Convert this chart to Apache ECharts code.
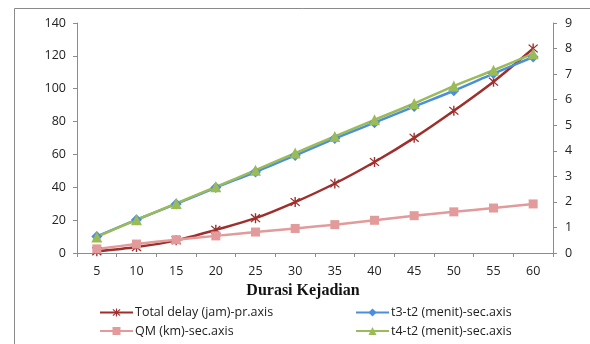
<!DOCTYPE html>
<html>
<head>
<meta charset="utf-8">
<script src="https://cdn.jsdelivr.net/npm/echarts@6/dist/echarts.min.js"></script>
<style>
  html, body { margin: 0; padding: 0; background: #fff; }
  #chart { width: 590px; height: 344px; }
</style>
</head>
<body>
<div id="chart"></div>
<script>
// Incident duration (minutes)
const durations = ['5', '10', '15', '20', '25', '30', '35', '40', '45', '50', '55', '60'];

// Primary axis (left)
const totalDelay = [1.0, 3.6, 7.7, 14.1, 21.2, 31.0, 42.3, 55.4, 70.1, 86.6, 104.3, 124.5];

// Secondary axis (right)
const queueKm = [0.16, 0.35, 0.52, 0.67, 0.82, 0.96, 1.11, 1.28, 1.46, 1.61, 1.76, 1.92];
const t3t2 = [0.65, 1.30, 1.92, 2.56, 3.17, 3.82, 4.48, 5.10, 5.73, 6.35, 7.02, 7.67];
const t4t2 = [0.63, 1.30, 1.94, 2.59, 3.24, 3.91, 4.56, 5.21, 5.85, 6.53, 7.15, 7.80];

const leftTicks = { min: 0, max: 140, interval: 20 };
const rightTicks = { min: 0, max: 9, interval: 1 };

const labelFont = 'Open Sans';
const axisGray = '#8c8c8c';

// asterisk marker: vertical bar plus two diagonals
const starPath = 'path://M-0.6,-5 L0.6,-5 L0.6,5 L-0.6,5 Z ' +
  'M-4.3,-3.5 L-3.5,-4.3 L4.3,3.5 L3.5,4.3 Z ' +
  'M3.5,-4.3 L4.3,-3.5 L-3.5,4.3 L-4.3,3.5 Z';

const chart = echarts.init(document.getElementById('chart'));

const axisCommon = {
  axisLine: { show: true, lineStyle: { color: axisGray, width: 1 } },
  axisTick: { show: true, length: 4, lineStyle: { color: axisGray } },
  splitLine: { show: false },
  axisLabel: { color: '#222', fontFamily: labelFont, fontSize: 12.5 }
};

const legendText = {
  color: '#222', fontFamily: labelFont, fontSize: 12.5,
  padding: [0, 0, 0, -3]
};

chart.setOption({
  animation: false,
  backgroundColor: '#fff',
  graphic: [{
    type: 'rect',
    shape: { x: 14.5, y: 8.5, width: 700, height: 500 },
    style: { fill: 'none', stroke: '#8a8a8a', lineWidth: 1 },
    silent: true
  }],
  grid: { left: 77, right: 37, top: 23, bottom: 91 },
  legend: [{
    data: ['Total delay (jam)-pr.axis', 'QM (km)-sec.axis'],
    orient: 'vertical',
    left: 94, top: 301,
    itemWidth: 33, itemHeight: 10, itemGap: 5.5,
    textStyle: legendText
  }, {
    data: ['t3-t2 (menit)-sec.axis', 't4-t2 (menit)-sec.axis'],
    orient: 'vertical',
    left: 350, top: 301,
    itemWidth: 33, itemHeight: 10, itemGap: 5.5,
    textStyle: legendText
  }],
  xAxis: {
    type: 'category',
    data: durations,
    boundaryGap: true,
    name: 'Durasi Kejadian',
    nameLocation: 'middle',
    nameGap: 28,
    nameTextStyle: {
      fontFamily: 'Liberation Serif', fontWeight: 'bold', fontSize: 16, color: '#111',
      padding: [0, 24, 0, 0]
    },
    axisLine: axisCommon.axisLine,
    axisTick: { show: true, length: 4, interval: 0, lineStyle: { color: axisGray } },
    axisLabel: Object.assign({}, axisCommon.axisLabel, { margin: 12, interval: 0 }),
    splitLine: { show: false }
  },
  yAxis: [
    Object.assign({
      type: 'value',
      position: 'left',
      min: leftTicks.min, max: leftTicks.max, interval: leftTicks.interval
    }, axisCommon, {
      axisLabel: Object.assign({}, axisCommon.axisLabel, { margin: 11 })
    }),
    Object.assign({
      type: 'value',
      position: 'right',
      min: rightTicks.min, max: rightTicks.max, interval: rightTicks.interval
    }, axisCommon, {
      axisLabel: Object.assign({}, axisCommon.axisLabel, { margin: 12 })
    })
  ],
  series: [{
    name: 'Total delay (jam)-pr.axis',
    type: 'line',
    yAxisIndex: 0,
    data: totalDelay,
    smooth: 0.3,
    symbol: starPath,
    symbolSize: 10,
    lineStyle: { color: '#9e2f2c', width: 2.5 },
    itemStyle: { color: '#9e2f2c' }
  }, {
    name: 'QM (km)-sec.axis',
    type: 'line',
    yAxisIndex: 1,
    data: queueKm,
    smooth: 0.3,
    symbol: 'rect',
    symbolSize: 9,
    lineStyle: { color: '#e29b9a', width: 2.5 },
    itemStyle: { color: '#e29b9a' }
  }, {
    name: 't3-t2 (menit)-sec.axis',
    type: 'line',
    yAxisIndex: 1,
    data: t3t2,
    smooth: 0.3,
    symbol: 'diamond',
    symbolSize: 11,
    lineStyle: { color: '#4a8fdc', width: 2.5 },
    itemStyle: { color: '#4a8fdc' }
  }, {
    name: 't4-t2 (menit)-sec.axis',
    type: 'line',
    yAxisIndex: 1,
    data: t4t2,
    smooth: 0.3,
    symbol: 'triangle',
    symbolSize: 11,
    lineStyle: { color: '#9bbb59', width: 2.5 },
    itemStyle: { color: '#9bbb59' }
  }]
});
</script>
</body>
</html>
